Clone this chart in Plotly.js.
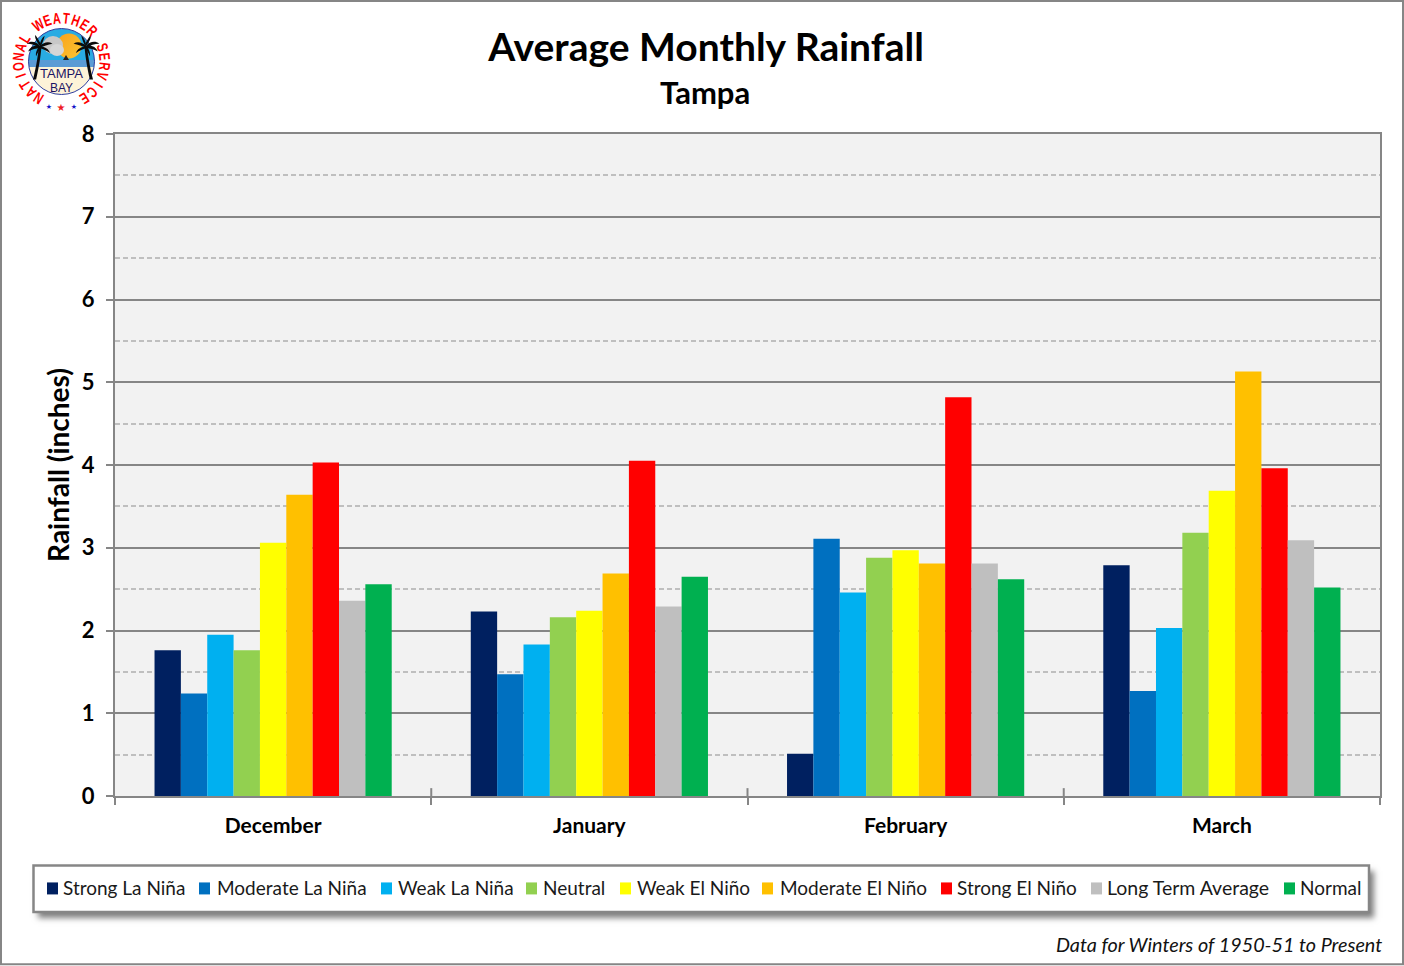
<!DOCTYPE html>
<html><head><meta charset="utf-8">
<script src="https://cdn.plot.ly/plotly-3.0.1.min.js"></script>
<style>
html,body{margin:0;padding:0;background:#fff;width:1404px;height:966px;overflow:hidden}
#shadow{position:absolute;left:33px;top:866px;width:1336px;height:47px;box-shadow:5px 5px 6px rgba(0,0,0,.5);background:#fff}
#chart{position:absolute;left:0;top:0;width:1404px;height:966px}
#logo{position:absolute;left:0;top:0;pointer-events:none}
</style></head><body>
<div id="shadow"></div>
<div id="chart"></div>
<svg id="logo" width="124" height="124" viewBox="0 0 124 124">
  <defs>
    <clipPath id="disc"><circle cx="61.5" cy="61.5" r="33"/></clipPath>
    <linearGradient id="sun" x1="0" y1="0" x2="1" y2="1"><stop offset="0" stop-color="#f9a11b"/><stop offset="1" stop-color="#fbc531"/></linearGradient>
    <g id="palm" fill="#0b0b0b">
      <path d="M-1 0 C-3 12 -4 24 -9 43 L-5 43 C-1 26 1 12 2 0 Z"/>
      <path d="M0 0 C-5 -6 -12 -7 -17 -3 C-11 -3 -6 -1 0 2 Z"/>
      <path d="M0 0 C-6 -2 -13 1 -15 7 C-10 4 -5 3 0 3 Z"/>
      <path d="M0 0 C-5 -6 -7 -11 -6 -14 C-3 -10 -1 -6 1 -3 Z"/>
      <path d="M0 0 C0 -6 3 -11 6 -13 C5 -8 3 -4 1 1 Z"/>
      <path d="M0 0 C5 -5 11 -6 16 -3 C10 -2 5 0 0 2 Z"/>
      <path d="M0 1 C5 0 11 3 13 9 C8 6 4 4 0 3 Z"/>
      <path d="M-1 1 C-4 4 -6 9 -5 13 C-3 9 -1 6 1 3 Z"/>
    </g>
  </defs>
  <g clip-path="url(#disc)">
    <rect x="28" y="28" width="67" height="34" fill="#29abe2"/>
    <rect x="28" y="60" width="67" height="8" fill="#5b9bd5"/>
    <rect x="28" y="67" width="67" height="29" fill="#fdf3d8"/>
    <circle cx="69" cy="46" r="12.5" fill="url(#sun)"/>
    <ellipse cx="53" cy="45" rx="10" ry="9" fill="#c8c8c8"/>
    <ellipse cx="57" cy="50" rx="7" ry="6" fill="#d6d6d6"/>
    <path d="M63 60 l3 -5 l3 5 Z" fill="#222"/>
  </g>
  <circle cx="61.5" cy="61.5" r="33" fill="none" stroke="#2e3f9e" stroke-width="1"/>
  <use href="#palm" transform="translate(40 46) scale(.78)"/>
  <use href="#palm" transform="translate(86 46) scale(-.78 .78)"/>
  <text x="40" y="77.5" textLength="43" lengthAdjust="spacingAndGlyphs" font-family="Liberation Sans" font-size="12" fill="#1b1464">TAMPA</text>
  <text x="61.5" y="91.5" text-anchor="middle" font-family="Liberation Sans" font-size="12" fill="#1b1464">BAY</text>
  <g id="ringText" font-family="Liberation Sans" font-weight="bold" font-size="15.5" fill="#ff0000" text-anchor="middle"></g>
  <text x="49" y="109" text-anchor="middle" font-family="DejaVu Sans" font-size="7" fill="#1414c8">★</text>
  <text x="61" y="111" text-anchor="middle" font-family="DejaVu Sans" font-size="10" fill="#ee1c25">★</text>
  <text x="74" y="109" text-anchor="middle" font-family="DejaVu Sans" font-size="7" fill="#1414c8">★</text>
</svg>
<script>
const months = ["December","January","February","March"];
const seriesNames = ["Strong La Niña","Moderate La Niña","Weak La Niña","Neutral","Weak El Niño","Moderate El Niño","Strong El Niño","Long Term Average","Normal"];
const seriesColors = ["#002060","#0070C0","#00B0F0","#92D050","#FFFF00","#FFC000","#FF0000","#BFBFBF","#00B050"];
const strongLaNina   = [1.76,2.23,0.51,2.79];
const moderateLaNina = [1.24,1.47,3.11,1.27];
const weakLaNina     = [1.95,1.83,2.46,2.03];
const neutral        = [1.76,2.16,2.88,3.18];
const weakElNino     = [3.06,2.24,2.97,3.69];
const moderateElNino = [3.64,2.69,2.81,5.13];
const strongElNino   = [4.03,4.05,4.82,3.96];
const longTermAvg    = [2.36,2.29,2.81,3.09];
const normal         = [2.56,2.65,2.62,2.52];
const seriesValues = [strongLaNina,moderateLaNina,weakLaNina,neutral,weakElNino,moderateElNino,strongElNino,longTermAvg,normal];

const ringLetters="NATIONAL WEATHER SERVICE";
const ringG=document.getElementById("ringText");
[...ringLetters].forEach((c,i)=>{
  if(c===" ")return;
  const t=document.createElementNS("http://www.w3.org/2000/svg","text");
  t.textContent=c;
  t.setAttribute("transform",`rotate(${-148+i*296/23} 61.5 61.5) translate(61.5 23.5) scale(.72 1)`);
  ringG.appendChild(t);
});

const W=1404,H=966,L=115,R=1380,T=134,B=796.5;
const GRID="#868686", FONT="Lato, Carlito, Calibri, sans-serif";
const px=x=>(x-L)/(R-L), py=y=>(B-y)/(B-T);

const legendSwatchX=[47,199,381,526,620,762,941,1091,1284];
const legendTextX=[63,217,398,543,637,780,957,1107,1300];

const traces=seriesNames.map((n,i)=>({type:"bar",name:n,x:months,y:seriesValues[i],marker:{color:seriesColors[i],line:{width:0}},hoverinfo:"x+y+name"}));

const shapes=[
  {type:"rect",xref:"paper",yref:"paper",x0:px(1),x1:px(W-1),y0:py(H-1),y1:py(1),line:{color:GRID,width:2},fillcolor:"rgba(0,0,0,0)",layer:"below"},
  {type:"rect",xref:"paper",yref:"paper",x0:px(33.5),x1:px(1369),y0:py(912.5),y1:py(866),line:{color:GRID,width:2.5},fillcolor:"#ffffff",layer:"below"}
];
months.slice(0,-1).forEach((m,i)=>shapes.push({type:"line",xref:"x",yref:"y",x0:i+.5,x1:i+.5,y0:0,y1:0.095,line:{color:GRID,width:2}}));
legendSwatchX.forEach((x,i)=>shapes.push({type:"rect",xref:"paper",yref:"paper",x0:px(x),x1:px(x+11),y0:py(895),y1:py(883),line:{width:0},fillcolor:seriesColors[i]}));

const annotations=[
 {text:"Tampa",xref:"paper",yref:"paper",x:px(705),y:py(91.5),xanchor:"center",yanchor:"middle",showarrow:false,font:{family:FONT,size:31,color:"#000",weight:700}},
 {text:"<i>Data for Winters of 1950-51 to Present</i>",xref:"paper",yref:"paper",x:px(1382),y:py(945),xanchor:"right",yanchor:"middle",showarrow:false,xshift:2,font:{family:FONT,size:19.8,color:"#111"}}
];
seriesNames.forEach((n,i)=>annotations.push({text:n,xref:"paper",yref:"paper",x:px(legendTextX[i]),y:py(888),xanchor:"left",yanchor:"middle",showarrow:false,xshift:-2,font:{family:FONT,size:i===7?19.5:19,color:"#1a1a1a"}}));

const layout={
  width:W,height:H,margin:{l:L,r:W-R,t:T,b:H-B,pad:0},
  paper_bgcolor:"rgba(0,0,0,0)",plot_bgcolor:"#F2F2F2",
  barmode:"group",bargap:0.25,bargroupgap:0,showlegend:false,
  title:{text:"Average Monthly Rainfall",x:706/W,xanchor:"center",y:1-47/H,yanchor:"middle",font:{family:FONT,size:39,color:"#000",weight:700}},
  xaxis:{type:"category",categoryorder:"array",categoryarray:months,tickson:"boundaries",ticks:"outside",ticklen:7,tickwidth:2,tickcolor:GRID,showline:true,mirror:true,linecolor:GRID,linewidth:2,showgrid:false,zeroline:false,
         tickfont:{family:FONT,size:21,color:"#000",weight:700},ticklabelstandoff:10},
  yaxis:{range:[0,8],dtick:1,tick0:0,ticks:"outside",ticklen:7,tickwidth:2,tickcolor:GRID,showline:true,mirror:true,linecolor:GRID,linewidth:2,
         gridcolor:GRID,gridwidth:2,zeroline:false,
         minor:{tick0:0.5,dtick:1,showgrid:true,gridcolor:"#BFBFBF",gridwidth:2,griddash:"5px,3px",ticks:""},
         tickfont:{family:FONT,size:22,color:"#000",weight:700},ticklabelstandoff:7,
         title:{text:"Rainfall (inches)",standoff:4,font:{family:FONT,size:28,color:"#000",weight:700}}},
  shapes,annotations
};
Plotly.newPlot("chart",traces,layout,{displayModeBar:false,responsive:false});
</script>
</body></html>
